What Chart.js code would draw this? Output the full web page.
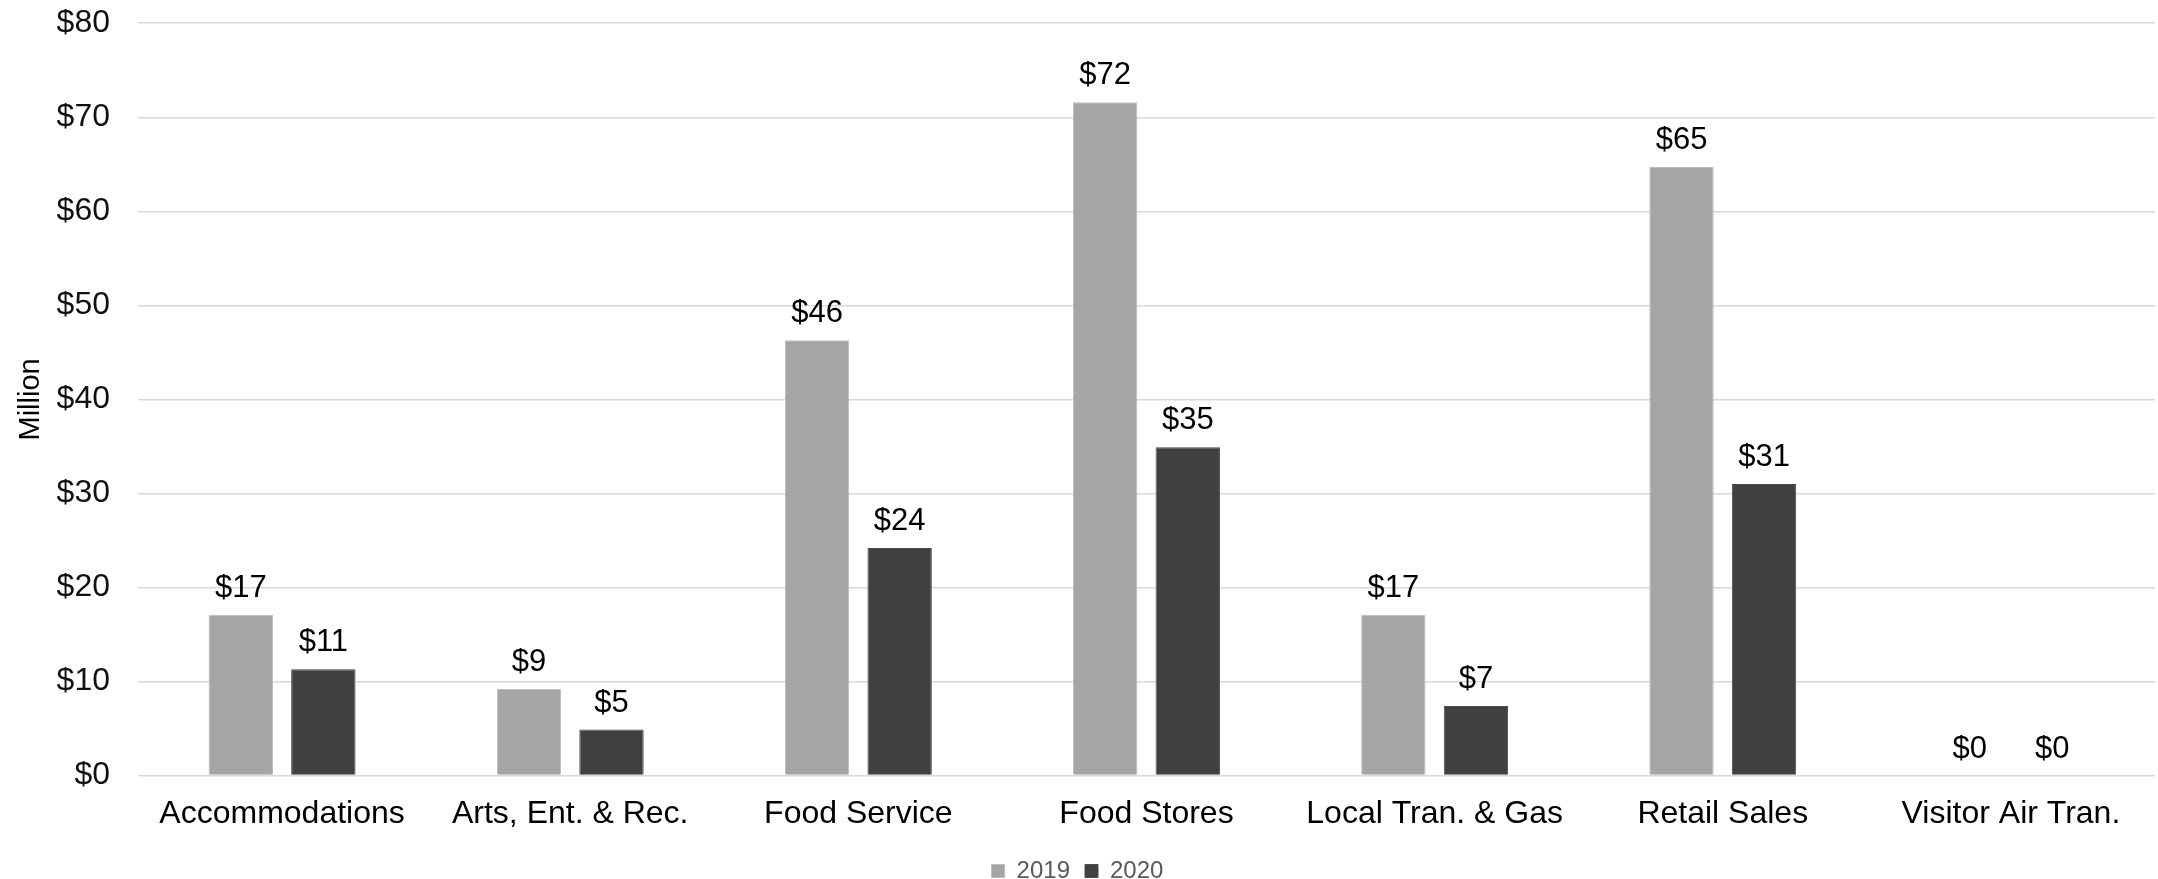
<!DOCTYPE html>
<html lang="en">
<head>
  <meta charset="UTF-8" />
  <title>Visitor Spending by Category</title>
  <script src="https://cdn.jsdelivr.net/npm/chart.js"></script>
  <style>
    html, body { margin: 0; padding: 0; background: #ffffff; }
    #wrap { width: 2158px; height: 879px; position: relative; }
  </style>
</head>
<body>
  <div id="wrap"><canvas id="spending"></canvas></div>

  <script>
    // Spending in $ million, per category
    const categories = [
      "Accommodations",
      "Arts, Ent. & Rec.",
      "Food Service",
      "Food Stores",
      "Local Tran. & Gas",
      "Retail Sales",
      "Visitor Air Tran."
    ];
    const spend2019 = [17.1, 9.2, 46.3, 71.6, 17.1, 64.7, 0];
    const spend2020 = [11.3, 4.9, 24.2, 34.9, 7.4, 31.0, 0];
    const yTicks = { min: 0, max: 80, step: 10 };

    const FONT = '"Liberation Sans", Arial, sans-serif';

    // "$NN" above every bar
    const barValueLabels = {
      id: "barValueLabels",
      afterDatasetsDraw(chart) {
        const ctx = chart.ctx;
        ctx.save();
        ctx.font = `31px ${FONT}`;
        ctx.fillStyle = "#000000";
        ctx.textAlign = "center";
        ctx.textBaseline = "bottom";
        chart.data.datasets.forEach((ds, i) => {
          chart.getDatasetMeta(i).data.forEach((bar, j) => {
            ctx.fillText("$" + Math.round(ds.data[j]), bar.x, bar.y - 11);
          });
        });
        ctx.restore();
      }
    };

    new Chart(document.getElementById("spending"), {
      type: "bar",
      data: {
        labels: categories,
        datasets: [
          {
            label: "2019",
            data: spend2019,
            backgroundColor: "#a5a5a5",
            borderColor: "#bdbdbd",
            borderWidth: 1,
            barPercentage: 0.78,
            categoryPercentage: 0.573
          },
          {
            label: "2020",
            data: spend2020,
            backgroundColor: "#404040",
            borderColor: "#4a4a4a",
            borderWidth: 1,
            barPercentage: 0.78,
            categoryPercentage: 0.573
          }
        ]
      },
      options: {
        responsive: true,
        maintainAspectRatio: false,
        animation: false,
        layout: { padding: { top: 0, right: 3, bottom: -14, left: 0 } },
        plugins: {
          legend: {
            position: "bottom",
            labels: {
              color: "#595959",
              font: { family: FONT, size: 24 },
              boxWidth: 13,
              boxHeight: 13,
              padding: 15
            }
          },
          tooltip: { enabled: false }
        },
        scales: {
          x: {
            grid: { display: false },
            border: { display: false },
            ticks: {
              color: "#000000",
              font: { family: FONT, size: 32 },
              padding: 11,
              maxRotation: 0
            }
          },
          y: {
            min: yTicks.min,
            max: yTicks.max,
            afterFit(scale) { scale.width = 138; },
            // invisible tick marks keep the labels away from the plot
            grid: { color: "#d9d9d9", lineWidth: 1.5, tickLength: 24, tickColor: "transparent" },
            border: { display: false },
            ticks: {
              stepSize: yTicks.step,
              color: "#111111",
              font: { family: FONT, size: 32 },
              padding: 4,
              callback: v => "$" + v
            },
            title: {
              display: true,
              text: "Million",
              color: "#000000",
              font: { family: FONT, size: 29 },
              padding: { top: 14, bottom: 0 }
            }
          }
        }
      },
      plugins: [barValueLabels]
    });
  </script>
</body>
</html>
